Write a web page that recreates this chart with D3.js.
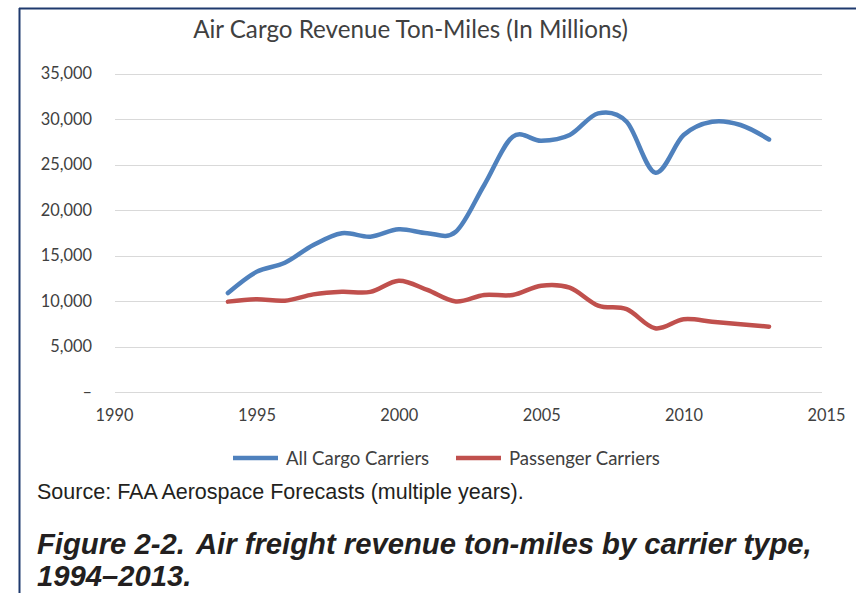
<!DOCTYPE html>
<html><head><meta charset="utf-8">
<script src="https://cdn.jsdelivr.net/npm/d3@7"></script>
<style>html,body{margin:0;padding:0;background:#fff;}svg{display:block;}</style>
</head><body>
<svg id="c" width="856" height="593"></svg>
<script>
const years = [1994,1995,1996,1997,1998,1999,2000,2001,2002,2003,2004,2005,2006,2007,2008,2009,2010,2011,2012,2013];
const allCargo = [10880,13200,14200,16150,17450,17070,17880,17450,17600,22750,28050,27600,28240,30620,29700,24110,28240,29700,29340,27750];
const passenger = [9930,10190,10030,10730,11020,11000,12230,11210,9950,10660,10660,11680,11460,9490,9100,7000,7990,7730,7440,7180];
const xTicks = [1990,1995,2000,2005,2010,2015];
const yTicks = [0,5000,10000,15000,20000,25000,30000,35000];
const seriesNames = ["All Cargo Carriers","Passenger Carriers"];
const colors = ["#4F81BD","#C0504D"];

const svg = d3.select("#c");
const SANS = "Lato, 'Open Sans', sans-serif";
const CAP = "'Liberation Sans', Arial, sans-serif";

// measure helper: font size so the string spans the target width
function fitSize(str, family, weight, style, target){
  const t = svg.append("text").style("font-family",family).style("font-size","100px")
    .style("font-weight",weight).style("font-style",style).text(str);
  const w = t.node().getComputedTextLength();
  t.remove();
  return 100*target/w;
}

// frame
svg.append("line").attr("x1",19).attr("x2",856).attr("y1",8.5).attr("y2",8.5).attr("stroke","#1F3A6E").attr("stroke-width",2);
svg.append("line").attr("x1",19.5).attr("x2",19.5).attr("y1",8).attr("y2",593).attr("stroke","#1F3A6E").attr("stroke-width",2);

const x = d3.scaleLinear().domain([1990,2015]).range([114,826]);
const y = d3.scaleLinear().domain([0,35000]).range([392,73.5]);

// title
const titleStr = "Air Cargo Revenue Ton-Miles (In Millions)";
const titleSize = fitSize(titleStr, SANS, "normal", "normal", 435);
svg.append("text").attr("x",410.5).attr("y",38).attr("text-anchor","middle")
  .style("font-family",SANS).style("font-size",titleSize+"px").attr("fill","#404040")
  .text(titleStr);

// gridlines
svg.append("g").selectAll("line").data(yTicks).join("line")
  .attr("x1",115).attr("x2",822).attr("y1",d=>Math.round(y(d))+0.5).attr("y2",d=>Math.round(y(d))+0.5)
  .attr("stroke","#d9d9d9").attr("stroke-width",1);

const tickSize = fitSize("1990", SANS, "normal", "normal", 38);

// y axis labels
const yAxis = d3.axisLeft(y).tickValues(yTicks).tickSize(0).tickPadding(0)
  .tickFormat(d=> d===0 ? "–" : d3.format(",")(d));
const gy = svg.append("g").attr("transform","translate(92,0)").call(yAxis);
gy.select(".domain").remove();
gy.selectAll("text").style("font-family",SANS).style("font-size",tickSize+"px").attr("fill","#404040");

// x axis labels
const xAxis = d3.axisBottom(x).tickValues(xTicks).tickSize(0).tickPadding(0).tickFormat(d3.format("d"));
const gx = svg.append("g").attr("transform","translate(0,409)").call(xAxis);
gx.select(".domain").remove();
gx.selectAll("text").style("font-family",SANS).style("font-size",tickSize+"px").attr("fill","#404040");

// lines
const line = d3.line().x((d,i)=>x(years[i])).y(d=>y(d)).curve(d3.curveCardinal.tension(0));
[allCargo, passenger].forEach((s,k)=>{
  svg.append("path").datum(s).attr("d",line).attr("fill","none")
    .attr("stroke",colors[k]).attr("stroke-width",4.5).attr("stroke-linecap","round").attr("stroke-linejoin","round");
});

// legend
const legX = [233,456];
const legSize = fitSize(seriesNames[1], SANS, "normal", "normal", 151);
seriesNames.forEach((n,k)=>{
  svg.append("line").attr("x1",legX[k]).attr("x2",legX[k]+45).attr("y1",458).attr("y2",458)
    .attr("stroke",colors[k]).attr("stroke-width",4.5);
  svg.append("text").attr("x",legX[k]+53).attr("y",464.5)
    .style("font-family",SANS).style("font-size",legSize+"px").attr("fill","#404040").text(n);
});

// source
const srcStr = "Source: FAA Aerospace Forecasts (multiple years).";
const srcSize = fitSize(srcStr, CAP, "normal", "normal", 487);
svg.append("text").attr("x",37).attr("y",499)
  .style("font-family",CAP).style("font-size",srcSize+"px").attr("fill","#231f20")
  .text(srcStr);

// caption
const capA = "Figure 2-2.", capB = "Air freight revenue ton-miles by carrier type,", capC = "1994–2013.";
const capSize = fitSize(capB, CAP, "bold", "italic", 616);
const cap = svg.append("text").style("font-family",CAP)
  .style("font-size",capSize+"px").style("font-weight","bold").style("font-style","italic").attr("fill","#231f20");
cap.append("tspan").attr("x",37).attr("y",554).text(capA);
cap.append("tspan").attr("x",196).attr("y",554).text(capB);
cap.append("tspan").attr("x",37).attr("y",586).text(capC);
</script>
</body></html>
